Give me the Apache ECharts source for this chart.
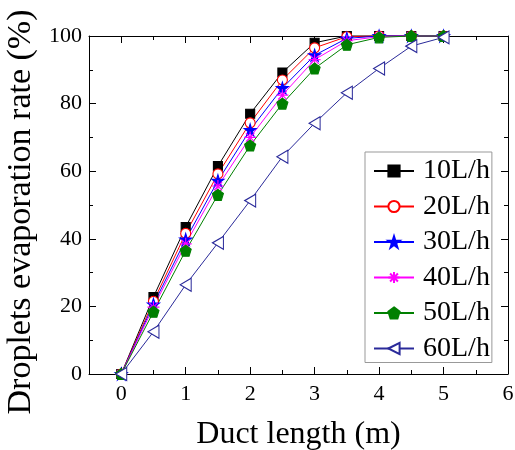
<!DOCTYPE html>
<html>
<head>
<meta charset="utf-8">
<script src="https://cdn.jsdelivr.net/npm/echarts@6/dist/echarts.min.js"></script>
<style>html,body{margin:0;padding:0;background:#fff;}#c{width:515px;height:450px;}</style>
</head>
<body>
<div id="c"></div>
<script>
const ductLength = [0, 0.5, 1, 1.5, 2, 2.5, 3, 3.5, 4, 4.5, 5];
const rate10 = [0, 22.8, 43.5, 61.5, 77.0, 89.2, 98.0, 100, 100, 100, 100];
const rate20 = [0, 21.5, 41.6, 59.2, 74.3, 87.0, 96.5, 99.8, 100, 100, 100];
const rate30 = [0, 20.6, 39.8, 57.2, 72.2, 84.6, 94.3, 99.3, 100, 100, 100];
const rate40 = [0, 19.8, 38.5, 55.6, 70.0, 82.5, 93.0, 98.6, 99.8, 100, 100];
const rate50 = [0, 18.4, 36.5, 53.0, 67.6, 80.0, 90.4, 97.4, 99.6, 100, 100];
const rate60 = [0, 12.5, 26.4, 38.8, 51.3, 64.3, 74.2, 83.2, 90.4, 97.0, 99.6];
const seriesNames = ['10L/h', '20L/h', '30L/h', '40L/h', '50L/h', '60L/h'];
const xTickLabels = [0, 1, 2, 3, 4, 5, 6];
const yTickLabels = [0, 20, 40, 60, 80, 100];

const FONT = "'Liberation Serif', 'Times New Roman', serif";
const STAR = 'path://M50,0L61.2,34.5L97.6,34.5L68.2,55.9L79.4,90.5L50,69.1L20.6,90.5L31.8,55.9L2.4,34.5L38.8,34.5Z';
const PENT = 'path://M50,0L97.6,34.5L79.4,90.5L20.6,90.5L2.4,34.5Z';
const LTRI = 'path://M0,50L100,0L100,100Z';
const AST = 'path://M50,0L50,100M0,50L100,50M15,15L85,85M15,85L85,15';

function pairs(arr) { return ductLength.map((x, i) => [x, arr[i]]); }

const styles = [
  { data: rate10, color: '#000000', symbol: 'rect', size: 9, fill: '#000000' },
  { data: rate20, color: '#ff0000', symbol: 'circle', size: 10, fill: '#ffffff' },
  { data: rate30, color: '#0000ff', symbol: STAR, size: 12, fill: '#0000ff' },
  { data: rate40, color: '#ff00ff', symbol: AST, size: 12, fill: 'none' },
  { data: rate50, color: '#008000', symbol: PENT, size: 11, fill: '#008000' },
  { data: rate60, color: '#2a2a9a', symbol: LTRI, size: [11, 13], fill: '#ffffff' }
];

const series = styles.map((s, i) => ({
  name: seriesNames[i],
  type: 'line',
  xAxisIndex: 0,
  yAxisIndex: 0,
  data: pairs(s.data),
  symbol: s.symbol,
  symbolSize: s.size,
  showAllSymbol: true,
  clip: false,
  lineStyle: { color: s.color, width: 1 },
  itemStyle: { color: s.fill, borderColor: s.color, borderWidth: 1.1 },
  emphasis: { disabled: true },
  animation: false
}));

const tickStyle = { color: '#000', width: 1 };
const baseX = {
  type: 'value', min: -0.5, max: 6, interval: 0.5,
  splitLine: { show: false },
  axisLine: { show: true, onZero: false, lineStyle: { color: '#000', width: 1 } }
};
const baseY = {
  type: 'value', min: 0, max: 100, interval: 20,
  splitLine: { show: false },
  axisLine: { show: true, onZero: false, lineStyle: { color: '#000', width: 1 } },
  axisTick: { show: true, inside: true, length: 7, lineStyle: tickStyle },
  minorTick: { show: true, splitNumber: 2, length: 4, lineStyle: tickStyle }
};

const option = {
  backgroundColor: '#ffffff',
  animation: false,
  grid: { left: 89, right: 7, top: 36, bottom: 76, containLabel: false, outerBoundsMode: 'none' },
  xAxis: [
    Object.assign({}, baseX, {
      position: 'bottom',
      axisTick: { show: true, inside: true, length: 4, lineStyle: tickStyle },
      axisLabel: {
        customValues: xTickLabels,
        formatter: v => (Number.isInteger(v) ? String(v) : ''),
        color: '#000', fontFamily: FONT, fontSize: 22, margin: 9, showMaxLabel: true
      },
      name: 'Duct length (m)', nameLocation: 'middle', nameGap: 45,
      nameTextStyle: { color: '#000', fontFamily: FONT, fontSize: 32 }
    }),
    Object.assign({}, baseX, {
      position: 'bottom',
      axisLine: { show: false, onZero: false },
      axisTick: { show: true, inside: true, length: 7, customValues: xTickLabels, lineStyle: tickStyle },
      axisLabel: { show: false }
    }),
    Object.assign({}, baseX, {
      position: 'top',
      axisTick: { show: true, inside: true, length: 4, lineStyle: tickStyle },
      axisLabel: { show: false }
    }),
    Object.assign({}, baseX, {
      position: 'top',
      axisLine: { show: false, onZero: false },
      axisTick: { show: true, inside: true, length: 7, customValues: xTickLabels, lineStyle: tickStyle },
      axisLabel: { show: false }
    })
  ],
  yAxis: [
    Object.assign({}, baseY, {
      position: 'left',
      axisLabel: {
        customValues: yTickLabels,
        color: '#000', fontFamily: FONT, fontSize: 22, margin: 7, showMaxLabel: true
      },
      name: 'Droplets evaporation rate (%)', nameLocation: 'middle', nameGap: 45, nameRotate: 90,
      nameTextStyle: { color: '#000', fontFamily: FONT, fontSize: 34, padding: [0, 14, 0, 0] }
    }),
    Object.assign({}, baseY, {
      position: 'right',
      axisLabel: { show: false }
    })
  ],
  legend: {
    show: true,
    orient: 'vertical',
    left: 365, top: 152,
    padding: [5, 2, 0, 8],
    itemGap: 7.5,
    itemWidth: 40,
    itemHeight: 14,
    borderColor: '#999999',
    borderWidth: 1,
    backgroundColor: '#ffffff',
    data: seriesNames,
    textStyle: { color: '#000', fontFamily: FONT, fontSize: 28, lineHeight: 24, padding: [0, 0, 0, 4] }
  },
  series: series
};

const chart = echarts.init(document.getElementById('c'), null, { renderer: 'canvas' });
chart.setOption(option);
</script>
</body>
</html>
